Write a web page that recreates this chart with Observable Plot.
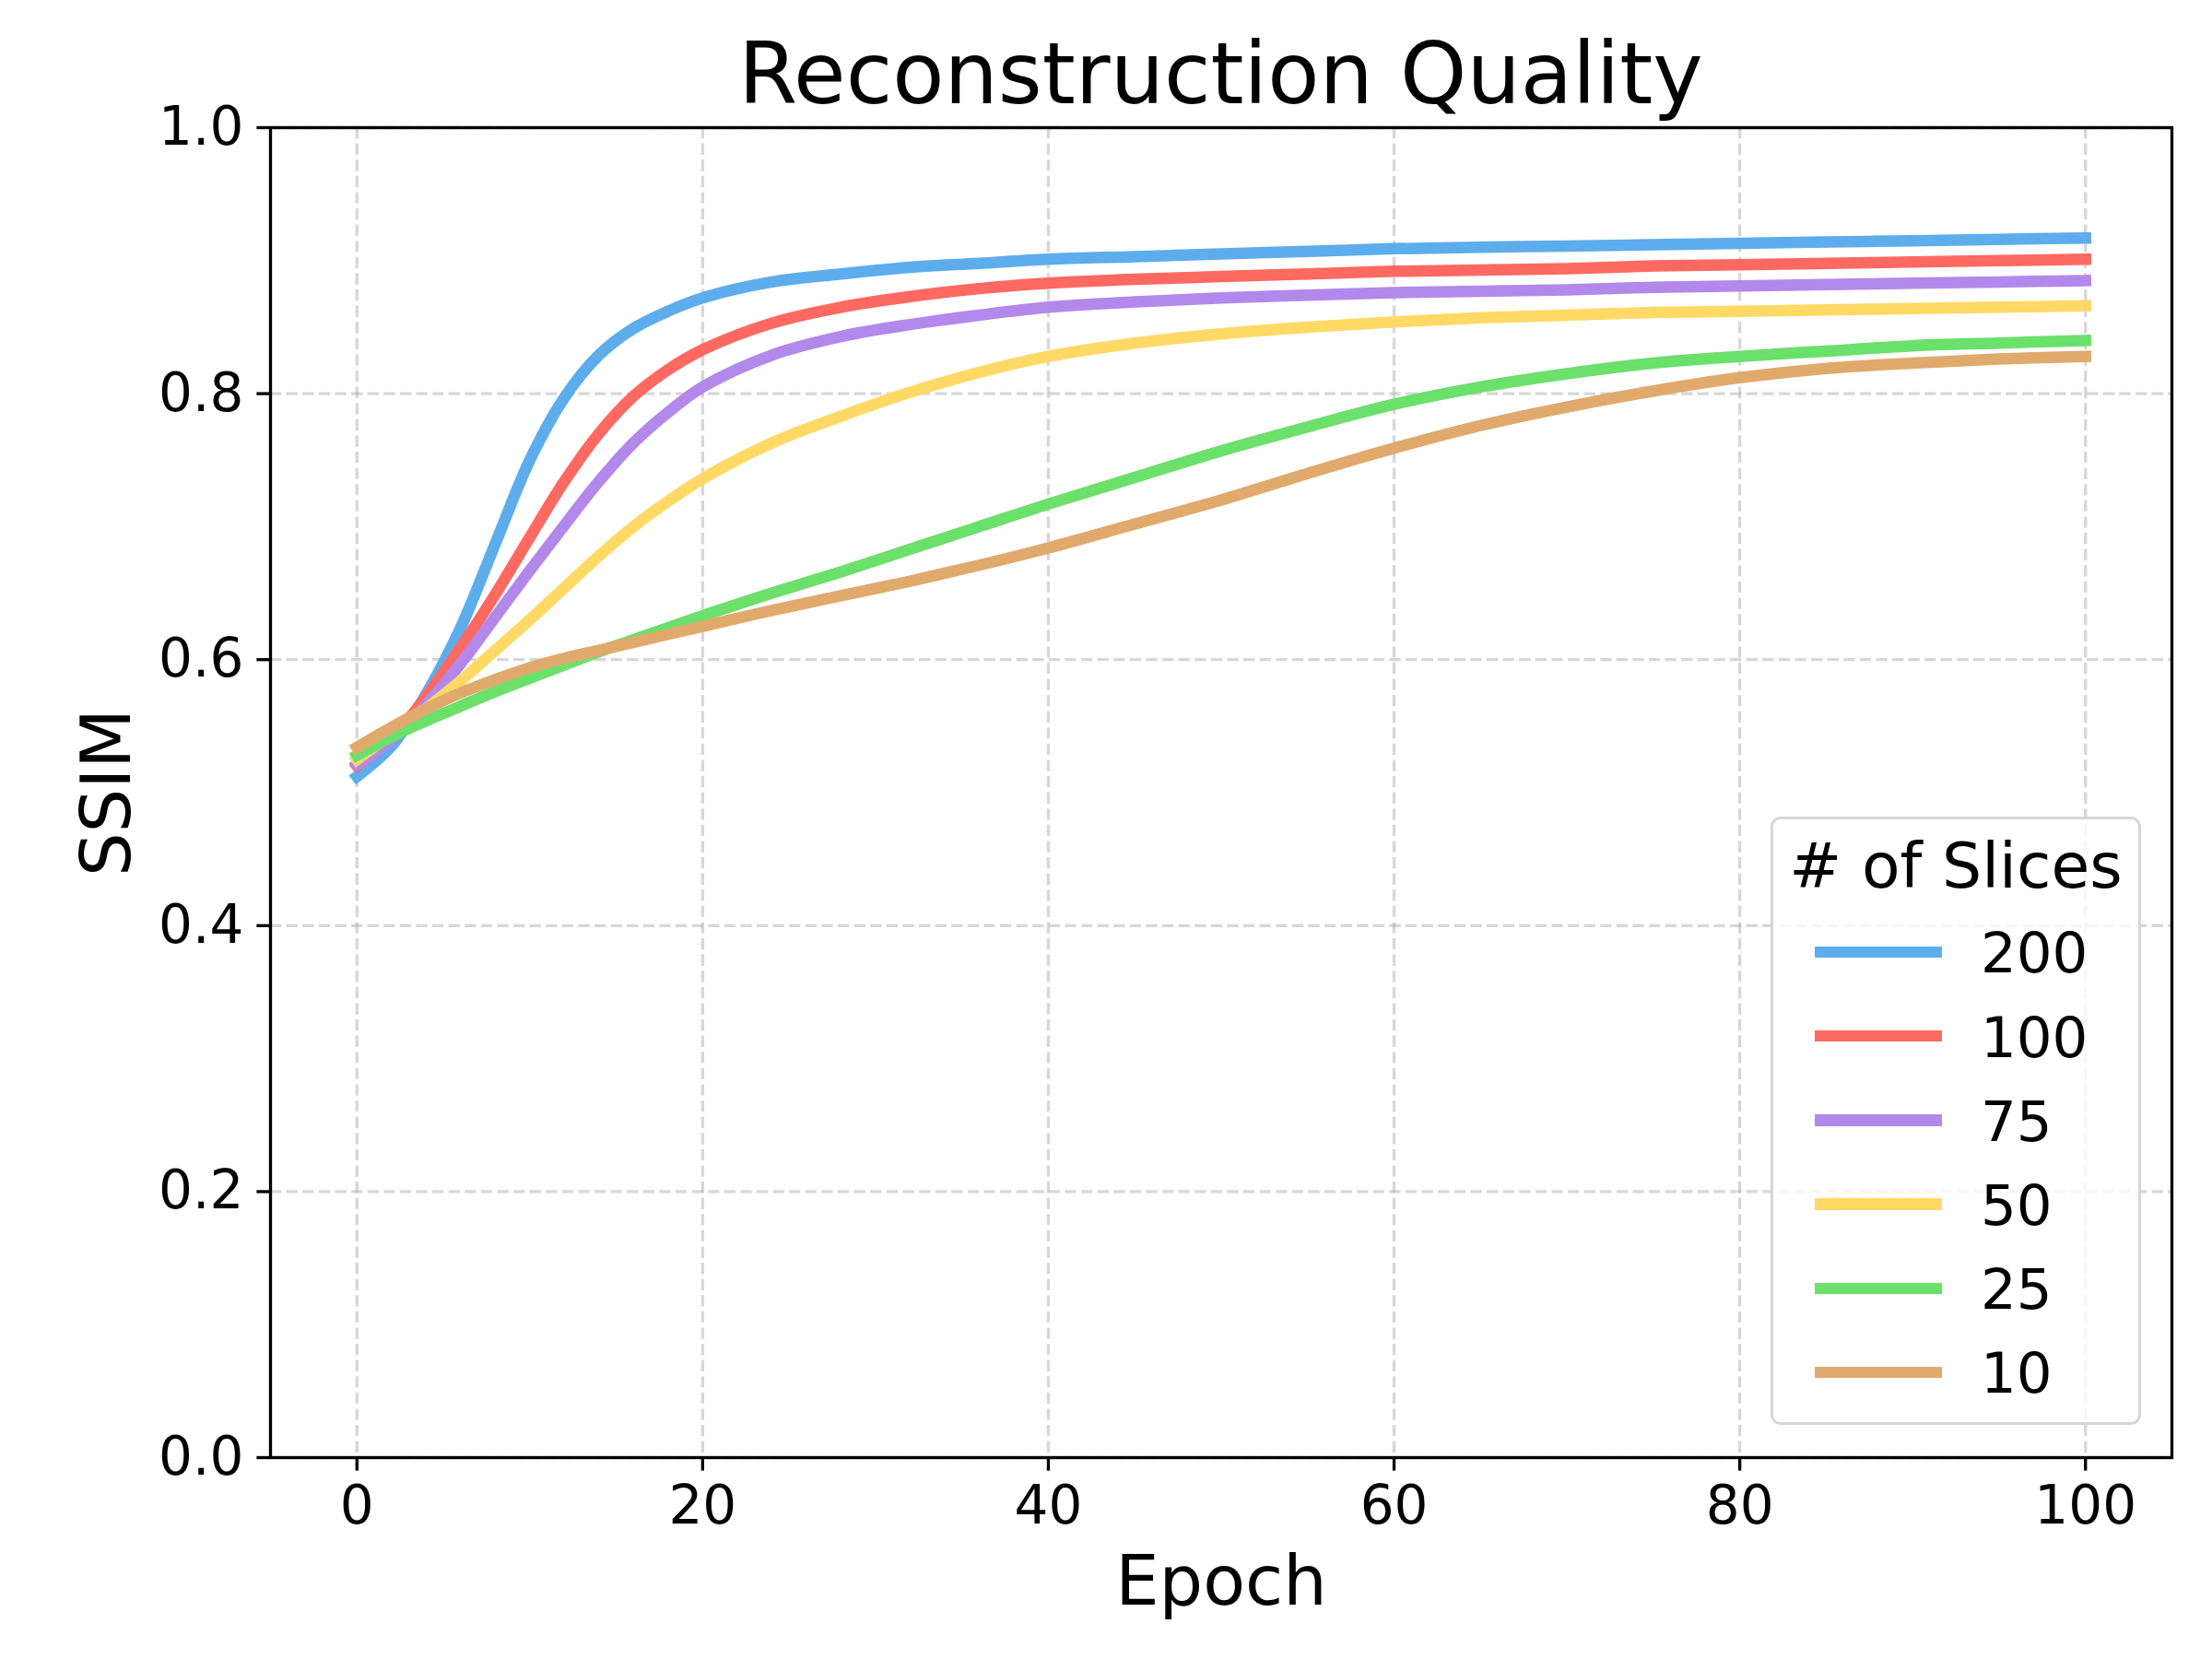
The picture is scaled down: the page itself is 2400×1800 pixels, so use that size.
<!DOCTYPE html>
<html>
<head>
<meta charset="utf-8">
<script src="https://cdn.jsdelivr.net/npm/d3@7"></script>
<script src="https://cdn.jsdelivr.net/npm/@observablehq/plot@0.6"></script>
<style>
  html, body { margin: 0; padding: 0; background: white; }
  #wrap { position: relative; width: 2400px; height: 1800px; font-family: "DejaVu Sans", sans-serif; color: black; background: white; }
  #title { position: relative; height: 60px; }
  #title div { position: absolute; left: 293px; width: 2063px; text-align: center; font-size: 92px; line-height: 92px; white-space: nowrap; }
  .abs { position: absolute; white-space: nowrap; }
</style>
</head>
<body>
<div id="wrap">
  <div id="title"><div id="titleText"></div></div>
  <div id="chart"></div>
</div>
<script>
// ---- data ----
const titleText = "Reconstruction Quality";
const xLabel = "Epoch";
const yLabel = "SSIM";
const legendTitle = "# of Slices";
const epochs = [0,2,4,6,8,10,12,14,16,18,20,24,28,32,36,40,45,50,55,60,65,70,75,80,85,90,95,100];
const s200 = [0.512,0.535,0.574,0.624,0.687,0.750,0.797,0.829,0.849,0.862,0.872,0.884,0.890,0.895,0.898,0.901,0.903,0.905,0.907,0.909,0.910,0.911,0.912,0.913,0.914,0.915,0.916,0.917];
const s100 = [0.520,0.541,0.572,0.609,0.649,0.692,0.734,0.770,0.798,0.818,0.833,0.853,0.865,0.873,0.879,0.883,0.886,0.888,0.890,0.892,0.893,0.894,0.896,0.897,0.898,0.899,0.900,0.901];
const s75  = [0.521,0.540,0.566,0.597,0.632,0.667,0.701,0.734,0.763,0.786,0.805,0.829,0.843,0.852,0.859,0.865,0.869,0.872,0.874,0.876,0.877,0.878,0.880,0.881,0.882,0.883,0.884,0.885];
const s50  = [0.525,0.544,0.563,0.584,0.607,0.630,0.654,0.678,0.700,0.719,0.736,0.763,0.783,0.801,0.816,0.828,0.838,0.845,0.850,0.854,0.857,0.859,0.861,0.862,0.863,0.864,0.865,0.866];
const s25  = [0.528,0.542,0.554,0.565,0.576,0.586,0.596,0.606,0.615,0.624,0.633,0.650,0.666,0.683,0.700,0.717,0.737,0.757,0.775,0.792,0.805,0.815,0.823,0.828,0.832,0.836,0.838,0.840];
const s10  = [0.534,0.549,0.563,0.575,0.585,0.594,0.601,0.607,0.613,0.619,0.625,0.637,0.648,0.659,0.671,0.684,0.702,0.720,0.740,0.759,0.776,0.790,0.802,0.812,0.819,0.823,0.826,0.828];
const seriesNames = ["200","100","75","50","25","10"];
const seriesValues = [s200, s100, s75, s50, s25, s10];
const seriesColors = ["#5DADEC","#FF6961","#B388EB","#FFD966","#6BE06B","#E0AA6C"];
const xTicks = [0,20,40,60,80,100];
const yTicks = [0,0.2,0.4,0.6,0.8,1.0];

// ---- build table ----
const rows = seriesNames.flatMap((name, i) =>
  epochs.map((e, j) => ({series: name, epoch: e, ssim: seriesValues[i][j]})));

document.getElementById("titleText").textContent = titleText;
document.querySelector("#title div").style.top = (113 - 0.846 * 92) + "px";

const lw = 3.33; // 0.8pt at 300dpi
const plot = Plot.plot({
  width: 2400,
  height: 1740,
  marginTop: 78,
  marginBottom: 219,
  marginLeft: 293,
  marginRight: 44,
  style: {fontFamily: "DejaVu Sans", fontSize: "58px", color: "black", background: "none", position: "relative"},
  x: {domain: [-5, 105]},
  y: {domain: [0, 1]},
  color: {type: "ordinal", domain: seriesNames, range: seriesColors},
  marks: [
    Plot.gridX(xTicks, {stroke: "#b0b0b0", strokeOpacity: 0.5, strokeWidth: lw, strokeDasharray: "12.3,5.3"}),
    Plot.gridY(yTicks, {stroke: "#b0b0b0", strokeOpacity: 0.5, strokeWidth: lw, strokeDasharray: "12.3,5.3"}),
    Plot.line(rows, {x: "epoch", y: "ssim", z: "series", stroke: "series", strokeWidth: 12.5,
      curve: "catmull-rom", strokeLinecap: "square", strokeLinejoin: "round"}),
    Plot.frame({stroke: "black", strokeWidth: lw}),
    Plot.axisX(xTicks, {tickSize: 14.6, tickPadding: 16.2, strokeWidth: lw, fontSize: 58, label: null, tickFormat: d3.format("d")}),
    Plot.axisY(yTicks, {tickSize: 14.6, tickPadding: 14.6, strokeWidth: lw, fontSize: 58, label: null, tickFormat: d3.format(".1f")}),
    Plot.text([xLabel], {text: d => d, frameAnchor: "bottom", dy: 159, lineAnchor: "bottom", textAnchor: "middle", fontSize: 75, fill: "black"}),
    Plot.text([yLabel], {text: d => d, frameAnchor: "left", dx: -153, rotate: -90, lineAnchor: "bottom", textAnchor: "middle", fontSize: 75, fill: "black"})
  ]
});
document.getElementById("chart").appendChild(plot);

// ---- legend (HTML overlay, page coords) ----
const wrap = document.getElementById("wrap");
const box = document.createElement("div");
Object.assign(box.style, {position: "absolute", left: "1921px", top: "886px", width: "402px", height: "660px",
  boxSizing: "border-box", border: "3.3px solid #d6d6d6", borderRadius: "11px", background: "rgba(255,255,255,0.8)"});
wrap.appendChild(box);
function addText(txt, fs, left, baseline, center) {
  const d = document.createElement("div");
  d.className = "abs";
  d.textContent = txt;
  Object.assign(d.style, {fontSize: fs + "px", lineHeight: fs + "px", top: (baseline - 0.846 * fs) + "px"});
  if (center) { d.style.left = (center - 300) + "px"; d.style.width = "600px"; d.style.textAlign = "center"; }
  else d.style.left = left + "px";
  wrap.appendChild(d);
}
addText(legendTitle, 68, 0, 964, 2122);
seriesNames.forEach((name, i) => {
  const cy = 1033 + i * 91.2;
  const ln = document.createElement("div");
  Object.assign(ln.style, {position: "absolute", left: "1969px", width: "138px", top: (cy - 6.25) + "px", height: "12.5px", background: seriesColors[i]});
  wrap.appendChild(ln);
  addText(name, 61, 2149, 1055 + i * 91.2);
});
</script>
</body>
</html>
